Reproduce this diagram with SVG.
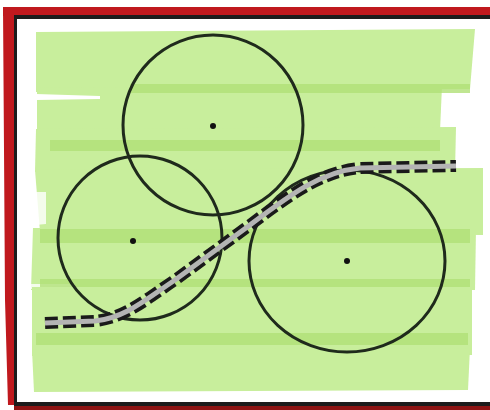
<svg xmlns="http://www.w3.org/2000/svg" width="490" height="410" viewBox="0 0 490 410">
<style>
.band{fill:#c8ee9c}
.stripe{fill:#b0e077;opacity:0.8}
.circ{fill:none;stroke:#1f2a1c;stroke-width:3}
.dot{fill:#111}
.edge{fill:none;stroke:#1a1a1a;stroke-width:12;stroke-dasharray:13 5;stroke-linecap:butt}
.core{fill:none;stroke:#b4b4b4;stroke-width:5}
</style>
<rect x="0" y="0" width="490" height="410" fill="#ffffff"/>
<g id="frame">
<rect x="3" y="7" width="487" height="9" fill="#c0191e"/>
<polygon points="3,7 14,7 14,405 8,405 5,300 4,150" fill="#c0191e"/>
<rect x="14" y="405" width="476" height="5" fill="#8e1414"/>
<rect x="14" y="15" width="476" height="4" fill="#1c1c1c"/>
<rect x="14" y="15" width="3" height="391" fill="#1c1c1c"/>
<rect x="14" y="402" width="476" height="4" fill="#1c1c1c"/>
</g>
<g id="field">
<polygon class="band" points="36,32 475,29 470,89 36,92"/>
<polygon class="band" points="37,88 442,86 440,131 37,134"/>
<polygon fill="#ffffff" points="36,94 100,96 100,99 36,100"/>
<polygon class="band" points="36,129 456,127 455,172 35,172"/>
<polygon class="band" points="35,170 483,168 483,235 40,232"/>
<polygon fill="#ffffff" opacity="0.8" points="35,192 46,192 46,224 35,225"/>
<polygon class="band" points="33,228 476,228 475,290 31,290"/>
<polygon fill="#ffffff" opacity="0.8" points="30,284 75,284 75,288 30,289"/>
<polygon class="band" points="32,287 472,286 472,355 32,356"/>
<polygon class="band" points="32,350 470,348 468,390 34,392"/>
<rect class="stripe" x="130" y="84" width="340" height="9"/>
<rect class="stripe" x="50" y="140" width="390" height="11"/>
<rect class="stripe" x="40" y="229" width="430" height="14"/>
<rect class="stripe" x="40" y="279" width="430" height="8"/>
<rect class="stripe" x="36" y="333" width="432" height="12"/>
</g>
<g id="circle-top">
<circle class="circ" cx="213" cy="125" r="90"/>
<circle class="dot" cx="213" cy="126" r="3"/>
</g>
<g id="circle-left">
<circle class="circ" cx="140" cy="238" r="82"/>
<circle class="dot" cx="133" cy="241" r="3"/>
</g>
<g id="circle-right">
<ellipse class="circ" cx="347" cy="261" rx="98" ry="91"/>
<circle class="dot" cx="347" cy="261" r="3"/>
</g>
<g id="connectors">
<path class="edge" d="M45,323 L95,321 C125,318 145,300 175,280 L250,225 C290,195 320,172 360,168 L456,166"/>
<path class="core" d="M45,323 L95,321 C125,318 145,300 175,280 L250,225 C290,195 320,172 360,168 L456,166"/>
</g>
</svg>
